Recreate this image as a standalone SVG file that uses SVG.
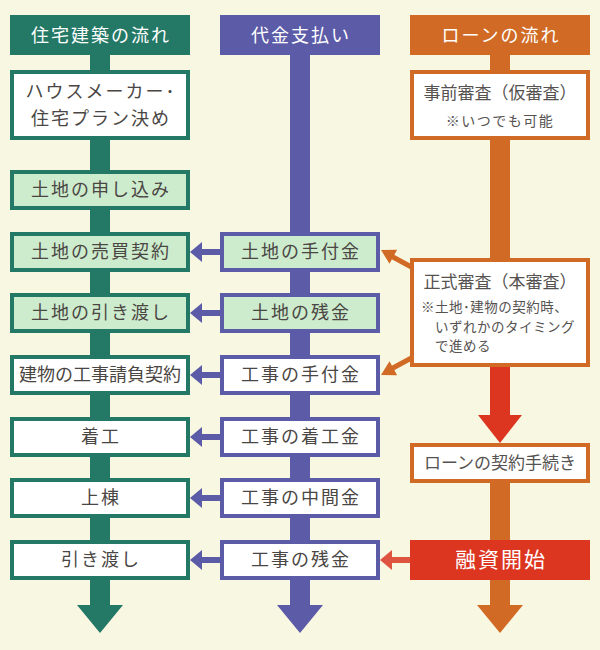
<svg xmlns="http://www.w3.org/2000/svg" width="600" height="650" viewBox="0 0 600 650">
<style>
.bg{fill:#F8F7E1}
.g{fill:#247866}
.p{fill:#5C5BA7}
.o{fill:#D06A25}
.r{fill:#DC3520}
.bxg{fill:#fff;stroke:#247866;stroke-width:4}
.bxgl{fill:#CDEBCD;stroke:#247866;stroke-width:4}
.bxp{fill:#fff;stroke:#5C5BA7;stroke-width:4}
.bxpl{fill:#CDEBCD;stroke:#5C5BA7;stroke-width:4}
.bxo{fill:#fff;stroke:#D06A25;stroke-width:4}
text{font-family:"Noto Sans CJK JP","Noto Sans",sans-serif;text-anchor:middle}
.hd{fill:#fff;font-size:18px;letter-spacing:2px}
.t{fill:#4A4643;font-size:18px;letter-spacing:2px}
.t0{fill:#4A4643;font-size:18px}
.s{fill:#555250;font-size:17px}
.n{fill:#555250;font-size:13.5px;letter-spacing:0.5px;text-anchor:start}
.big{fill:#fff;font-size:21px;letter-spacing:2px}
</style>
<rect class="bg" x="0" y="0" width="600" height="650"/>
<g id="connectors">
  <rect class="g" x="90" y="50" width="20" height="556"/>
  <polygon class="g" points="77,605 123,605 100,633"/>
  <rect class="p" x="290" y="50" width="20" height="556"/>
  <polygon class="p" points="277,605 323,605 300,633"/>
  <rect class="o" x="490" y="50" width="20" height="212"/>
  <rect class="r" x="490" y="362" width="20" height="54"/>
  <polygon class="r" points="478,415 522,415 500,443"/>
  <rect class="o" x="490" y="480" width="20" height="126"/>
  <polygon class="o" points="477,605 523,605 500,633"/>
  <g class="p">
    <rect x="200" y="249" width="22" height="6"/><polygon points="190,252 202,242 202,262"/>
    <rect x="200" y="310" width="22" height="6"/><polygon points="190,313 202,303 202,323"/>
    <rect x="200" y="372" width="22" height="6"/><polygon points="190,375 202,365 202,385"/>
    <rect x="200" y="434" width="22" height="6"/><polygon points="190,437 202,427 202,447"/>
    <rect x="200" y="495" width="22" height="6"/><polygon points="190,498 202,488 202,508"/>
    <rect x="200" y="557" width="22" height="6"/><polygon points="190,560 202,550 202,570"/>
  </g>
  <g>
    <line x1="392" y1="256.5" x2="416" y2="269.5" stroke="#D06A25" stroke-width="5"/>
    <polygon class="o" points="381,250 397.1,249.7 389.5,263.7"/>
    <line x1="392" y1="368.5" x2="416" y2="355.5" stroke="#D06A25" stroke-width="5"/>
    <polygon class="o" points="381,375 397.1,375.3 389.5,361.3"/>
  </g>
  <rect x="390" y="557" width="22" height="6" fill="#DF5440"/>
  <polygon points="380,560 392,550 392,570" fill="#DF5440"/>
</g>

<g id="hdr-house"><rect class="g" x="10" y="15" width="180" height="40"/><text class="hd" x="101" y="42">住宅建築の流れ</text></g>
<g id="hdr-pay"><rect class="p" x="220" y="15" width="160" height="40"/><text class="hd" x="301" y="42">代金支払い</text></g>
<g id="hdr-loan"><rect class="o" x="410" y="15" width="180" height="40"/><text class="hd" x="501" y="42">ローンの流れ</text></g>

<g id="n-maker"><rect class="bxg" x="12" y="72" width="176" height="66"/><text class="t" x="101" y="98">ハウスメーカー･</text><text class="t" x="101" y="125">住宅プラン決め</text></g>
<g id="n-land-apply"><rect class="bxgl" x="12" y="172" width="176" height="36"/><text class="t" x="101" y="196">土地の申し込み</text></g>
<g id="n-land-contract"><rect class="bxgl" x="12" y="234" width="176" height="36"/><text class="t" x="101" y="258">土地の売買契約</text></g>
<g id="n-land-deliver"><rect class="bxgl" x="12" y="295" width="176" height="36"/><text class="t" x="101" y="319">土地の引き渡し</text></g>
<g id="n-build-contract"><rect class="bxg" x="12" y="357" width="176" height="36"/><text class="t0" x="100" y="381">建物の工事請負契約</text></g>
<g id="n-start"><rect class="bxg" x="12" y="419" width="176" height="36"/><text class="t" x="101" y="443">着工</text></g>
<g id="n-frame"><rect class="bxg" x="12" y="480" width="176" height="36"/><text class="t" x="101" y="504">上棟</text></g>
<g id="n-deliver"><rect class="bxg" x="12" y="542" width="176" height="36"/><text class="t" x="101" y="566">引き渡し</text></g>

<g id="p-land-deposit"><rect class="bxpl" x="222" y="234" width="156" height="36"/><text class="t" x="301" y="258">土地の手付金</text></g>
<g id="p-land-rest"><rect class="bxpl" x="222" y="295" width="156" height="36"/><text class="t" x="301" y="319">土地の残金</text></g>
<g id="p-build-deposit"><rect class="bxp" x="222" y="357" width="156" height="36"/><text class="t" x="301" y="381">工事の手付金</text></g>
<g id="p-start"><rect class="bxp" x="222" y="419" width="156" height="36"/><text class="t" x="301" y="443">工事の着工金</text></g>
<g id="p-mid"><rect class="bxp" x="222" y="480" width="156" height="36"/><text class="t" x="301" y="504">工事の中間金</text></g>
<g id="p-rest"><rect class="bxp" x="222" y="542" width="156" height="36"/><text class="t" x="301" y="566">工事の残金</text></g>

<g id="l-pre"><rect class="bxo" x="412" y="72" width="176" height="66"/><text class="s" x="500" y="99">事前審査（仮審査）</text><text class="s" x="500" y="126" style="font-size:14px;letter-spacing:1.5px">※いつでも可能</text></g>
<g id="l-main"><rect class="bxo" x="412" y="260" width="176" height="105"/><text class="s" x="500" y="288">正式審査（本審査）</text><text class="n" x="421" y="312">※土地･建物の契約時、</text><text class="n" x="435" y="331.5">いずれかのタイミング</text><text class="n" x="435" y="351">で進める</text></g>
<g id="l-contract"><rect class="bxo" x="412" y="445" width="176" height="36"/><text class="s" x="500" y="469">ローンの契約手続き</text></g>
<g id="l-fund"><rect class="r" x="410" y="540" width="180" height="40"/><text class="big" x="501" y="567">融資開始</text></g>
</svg>
